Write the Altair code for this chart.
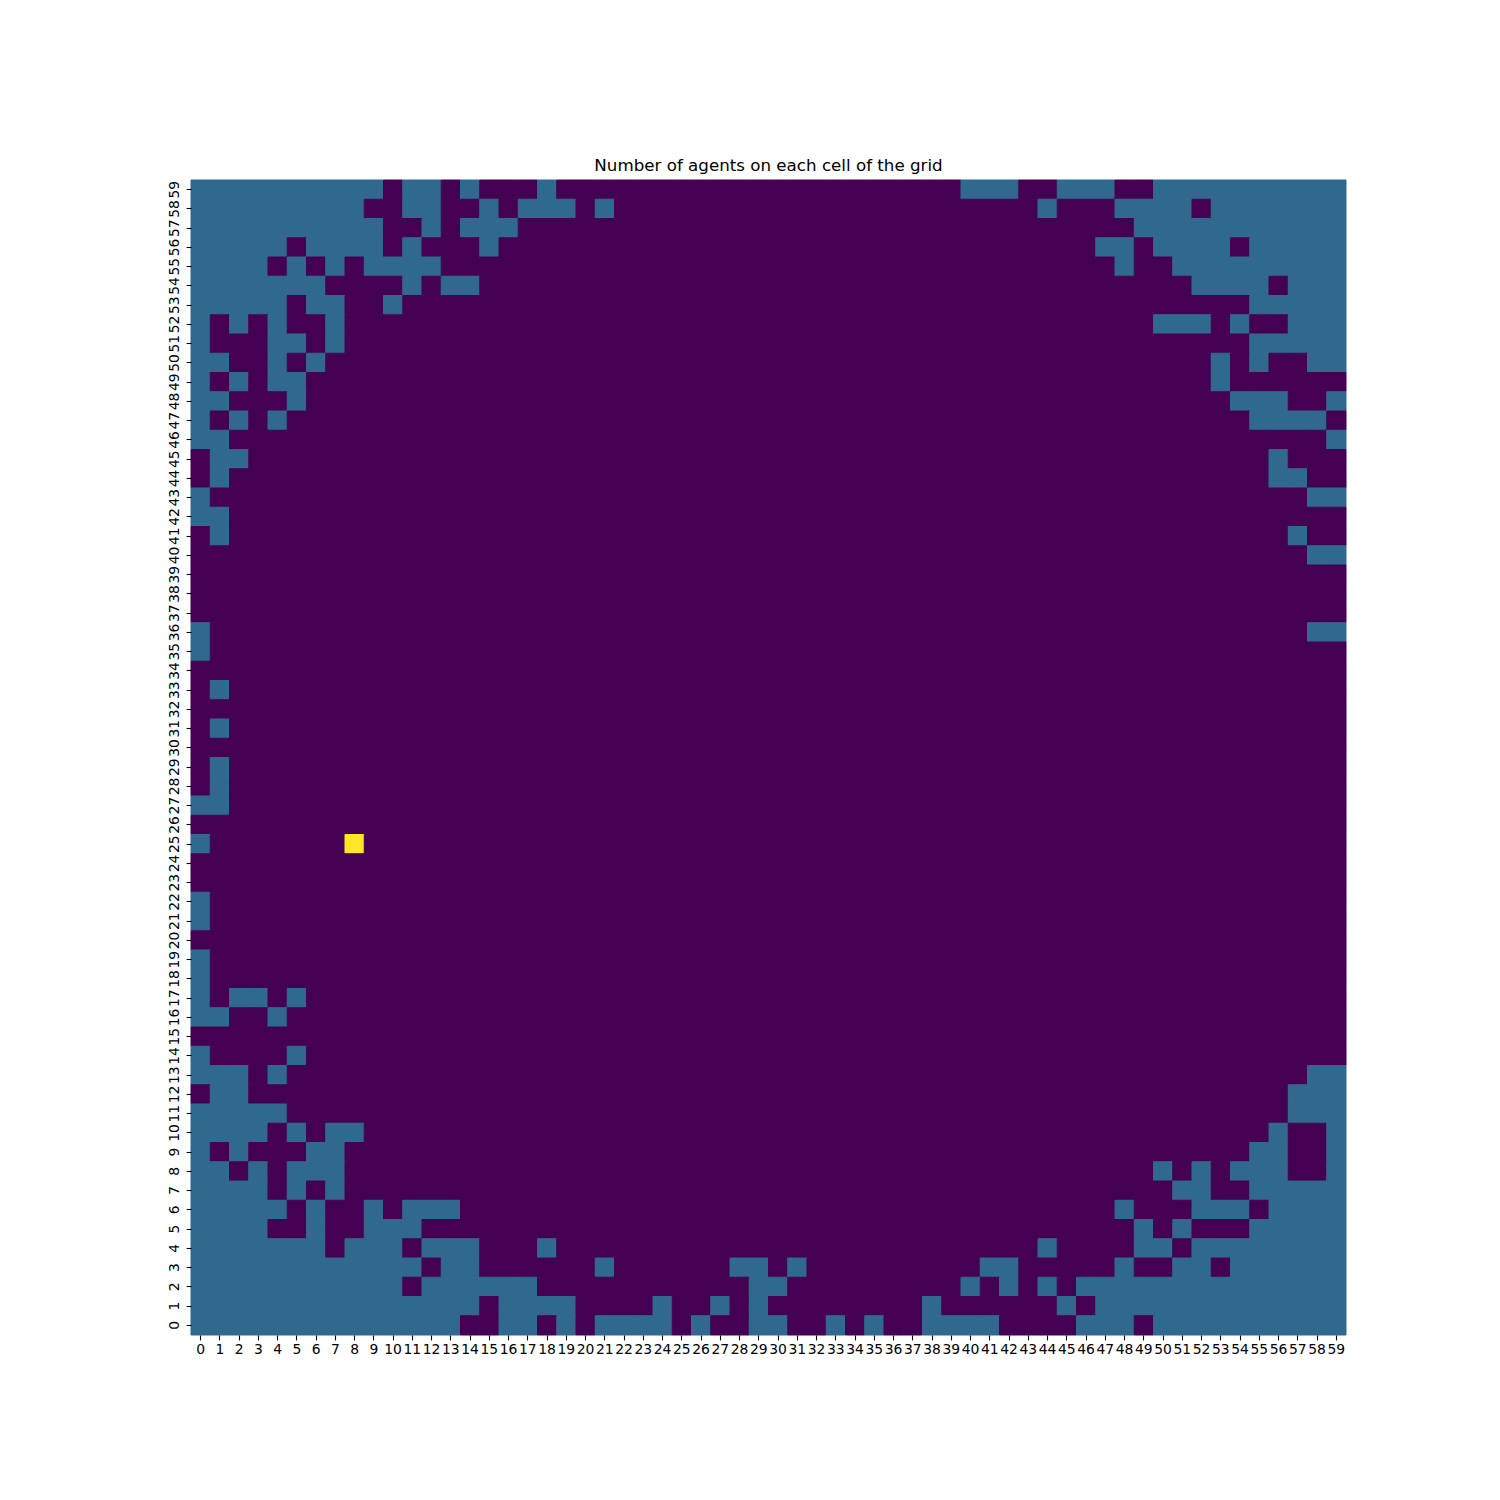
import altair as alt
import pandas as pd

TITLE = "Number of agents on each cell of the grid"

# Each string is one grid row (columns 0..59), value per cell; rows listed from 59 (top) down.
rows_59_to_40 = [
    "1111111111 0110100010 0000000000 0000000000 1110011100 1111111111",  # 59
    "1111111110 0110010111 0100000000 0000000000 0000100011 1101111111",  # 58
    "1111111111 0010111000 0000000000 0000000000 0000000001 1111111111",  # 57
    "1111101111 0100010000 0000000000 0000000000 0000000110 1111011111",  # 56
    "1111010101 1110000000 0000000000 0000000000 0000000010 0111111111",  # 55
    "1111111000 0101100000 0000000000 0000000000 0000000000 0011110111",  # 54
    "1111101100 1000000000 0000000000 0000000000 0000000000 0000011111",  # 53
    "1010100100 0000000000 0000000000 0000000000 0000000000 1110100111",  # 52
    "1000110100 0000000000 0000000000 0000000000 0000000000 0000011111",  # 51
    "1100101000 0000000000 0000000000 0000000000 0000000000 0001010011",  # 50
    "1010110000 0000000000 0000000000 0000000000 0000000000 0001000000",  # 49
    "1100010000 0000000000 0000000000 0000000000 0000000000 0000111001",  # 48
    "1010100000 0000000000 0000000000 0000000000 0000000000 0000011110",  # 47
    "1100000000 0000000000 0000000000 0000000000 0000000000 0000000001",  # 46
    "0110000000 0000000000 0000000000 0000000000 0000000000 0000001000",  # 45
    "0100000000 0000000000 0000000000 0000000000 0000000000 0000001100",  # 44
    "1000000000 0000000000 0000000000 0000000000 0000000000 0000000011",  # 43
    "1100000000 0000000000 0000000000 0000000000 0000000000 0000000000",  # 42
    "0100000000 0000000000 0000000000 0000000000 0000000000 0000000100",  # 41
    "0000000000 0000000000 0000000000 0000000000 0000000000 0000000011",  # 40
]
rows_39_to_20 = [
    "0000000000 0000000000 0000000000 0000000000 0000000000 0000000000",  # 39
    "0000000000 0000000000 0000000000 0000000000 0000000000 0000000000",  # 38
    "0000000000 0000000000 0000000000 0000000000 0000000000 0000000000",  # 37
    "1000000000 0000000000 0000000000 0000000000 0000000000 0000000011",  # 36
    "1000000000 0000000000 0000000000 0000000000 0000000000 0000000000",  # 35
    "0000000000 0000000000 0000000000 0000000000 0000000000 0000000000",  # 34
    "0100000000 0000000000 0000000000 0000000000 0000000000 0000000000",  # 33
    "0000000000 0000000000 0000000000 0000000000 0000000000 0000000000",  # 32
    "0100000000 0000000000 0000000000 0000000000 0000000000 0000000000",  # 31
    "0000000000 0000000000 0000000000 0000000000 0000000000 0000000000",  # 30
    "0100000000 0000000000 0000000000 0000000000 0000000000 0000000000",  # 29
    "0100000000 0000000000 0000000000 0000000000 0000000000 0000000000",  # 28
    "1100000000 0000000000 0000000000 0000000000 0000000000 0000000000",  # 27
    "0000000000 0000000000 0000000000 0000000000 0000000000 0000000000",  # 26
    "1000000030 0000000000 0000000000 0000000000 0000000000 0000000000",  # 25
    "0000000000 0000000000 0000000000 0000000000 0000000000 0000000000",  # 24
    "0000000000 0000000000 0000000000 0000000000 0000000000 0000000000",  # 23
    "1000000000 0000000000 0000000000 0000000000 0000000000 0000000000",  # 22
    "1000000000 0000000000 0000000000 0000000000 0000000000 0000000000",  # 21
    "0000000000 0000000000 0000000000 0000000000 0000000000 0000000000",  # 20
]
rows_19_to_0 = [
    "1000000000 0000000000 0000000000 0000000000 0000000000 0000000000",  # 19
    "1000000000 0000000000 0000000000 0000000000 0000000000 0000000000",  # 18
    "1011010000 0000000000 0000000000 0000000000 0000000000 0000000000",  # 17
    "1100100000 0000000000 0000000000 0000000000 0000000000 0000000000",  # 16
    "0000000000 0000000000 0000000000 0000000000 0000000000 0000000000",  # 15
    "1000010000 0000000000 0000000000 0000000000 0000000000 0000000000",  # 14
    "1110100000 0000000000 0000000000 0000000000 0000000000 0000000011",  # 13
    "0110000000 0000000000 0000000000 0000000000 0000000000 0000000111",  # 12
    "1111100000 0000000000 0000000000 0000000000 0000000000 0000000111",  # 11
    "1111010110 0000000000 0000000000 0000000000 0000000000 0000001001",  # 10
    "1010001100 0000000000 0000000000 0000000000 0000000000 0000011001",  # 9
    "1101011100 0000000000 0000000000 0000000000 0000000000 1010111001",  # 8
    "1111010100 0000000000 0000000000 0000000000 0000000000 0110011111",  # 7
    "1111101001 0111000000 0000000000 0000000000 0000000010 0011101111",  # 6
    "1111001001 1100000000 0000000000 0000000000 0000000001 0100011111",  # 5
    "1111111011 1011100010 0000000000 0000000000 0000100001 1011111111",  # 4
    "1111111111 1101100000 0100000011 0100000000 0110000010 0110111111",  # 3
    "1111111111 1011111100 0000000001 1000000000 1010101111 1111111111",  # 2
    "1111111111 1111101111 0000100101 0000000010 0000010111 1111111111",  # 1
    "1111111111 1111001101 0111101001 1001010011 1100001110 1111111111",  # 0
]

x_labels = [str(i) for i in range(60)]
y_labels = [str(i) for i in range(59, -1, -1)]

all_rows = rows_59_to_40 + rows_39_to_20 + rows_19_to_0
records = []
for ylab, row in zip(y_labels, all_rows):
    cells = row.replace(" ", "")
    for xlab, ch in zip(x_labels, cells):
        records.append({"x": xlab, "y": ylab, "v": int(ch)})
df = pd.DataFrame(records)

color_scale = alt.Scale(domain=[0, 1, 2, 3],
                        range=["#440154", "#31688e", "#35b779", "#fde725"])

axis_common = dict(title=None, domain=False, tickSize=4.9, tickWidth=1.1,
                   tickColor="black", labelFont="DejaVu Sans",
                   labelFontSize=13.9, labelColor="black", labelOverlap=False)

chart = alt.Chart(df).mark_rect(strokeWidth=1).encode(
    x=alt.X("x:O", sort=x_labels,
            scale=alt.Scale(paddingInner=0, paddingOuter=0, round=False),
            axis=alt.Axis(labelAngle=0, labelPadding=3, **axis_common)),
    y=alt.Y("y:O", sort=y_labels,
            scale=alt.Scale(paddingInner=0, paddingOuter=0, round=False),
            axis=alt.Axis(labelAngle=270, labelAlign="center",
                          labelBaseline="bottom", labelPadding=5, **axis_common)),
    color=alt.Color("v:Q", scale=color_scale, legend=None),
    stroke=alt.Stroke("v:Q", scale=color_scale, legend=None),
).properties(
    width=1155,
    height=1155,
    title=alt.TitleParams(TITLE, font="DejaVu Sans", fontSize=16.7,
                          fontWeight="normal", color="black", anchor="middle",
                          offset=-8, baseline="alphabetic"),
    autosize=alt.AutoSizeParams(type="none"),
    padding={"left": 183, "top": 172, "right": 100, "bottom": 100},
).configure_view(stroke=None)

chart.save("out.html", embed_options={"renderer": "svg", "actions": False})
